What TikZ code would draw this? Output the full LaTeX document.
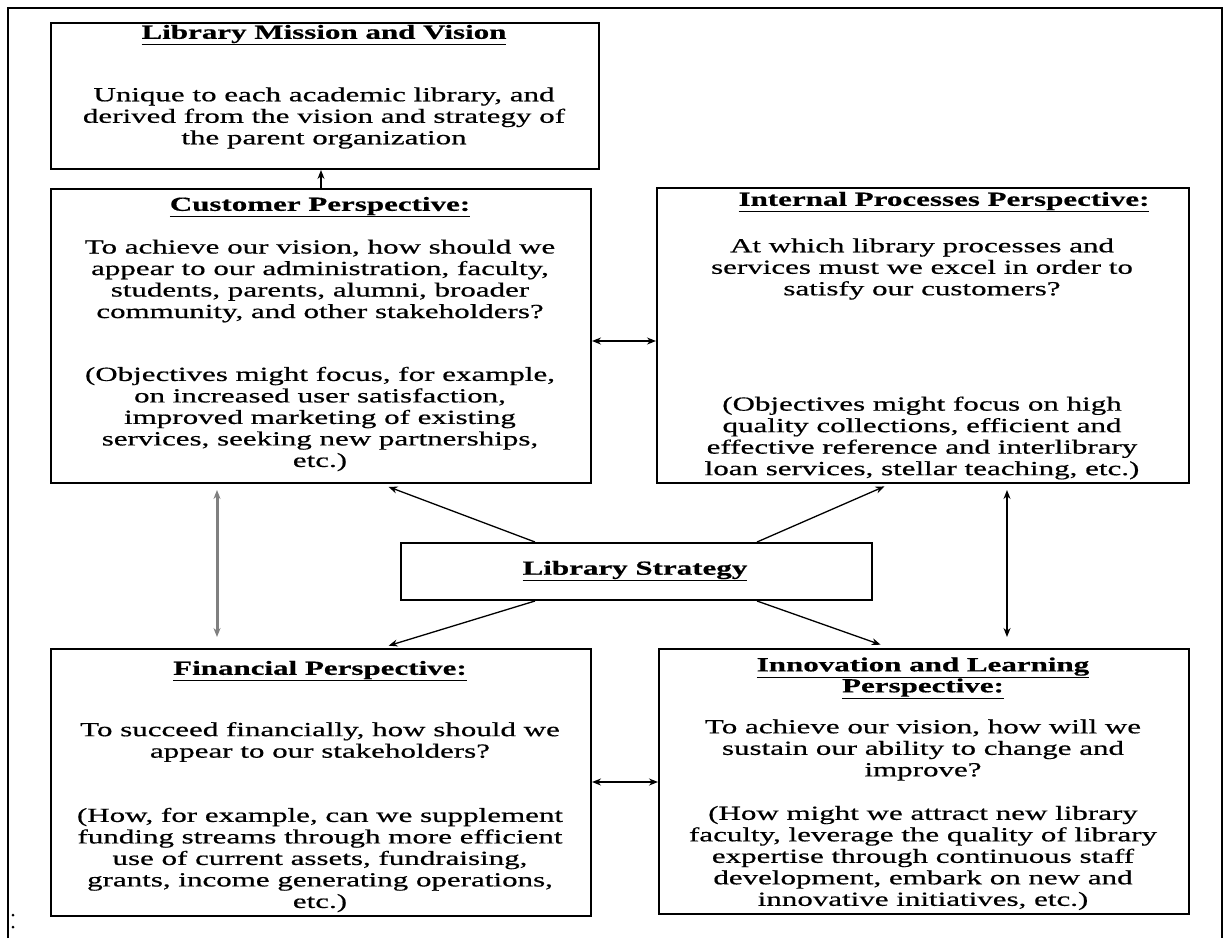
\documentclass[tikz,border=0pt]{standalone}
\usepackage{fontspec}
\setmainfont{Liberation Serif}[FakeStretch=1.55, FakeBold=0.6]
\usetikzlibrary{positioning,arrows.meta}

\begin{document}
\begin{tikzpicture}[x=1pt,y=-1pt,
    every node/.style={font=\fontsize{20}{21.5}\selectfont},
    panel/.style={draw, line width=2pt, inner sep=0pt, anchor=north west},
    head/.style={font=\fontsize{20}{21}\selectfont\bfseries, align=center, inner sep=0pt},
    body/.style={align=center, inner sep=0pt},
    link/.style={line width=1.3pt, -{Stealth[length=9pt,width=7pt]}},
    both/.style={line width=1.3pt, {Stealth[length=9pt,width=7pt]}-{Stealth[length=9pt,width=7pt]}}]
  \useasboundingbox (0,0) rectangle (1224,938);
  % outer frame
  \draw[line width=2pt] (8,938) -- (8,8) -- (1222,8) -- (1222,938);
  \fill (13,915) circle (1.5pt);
  \fill (13,927) circle (1.5pt);

  % boxes
  \node[panel, minimum width=548pt, minimum height=146pt] (mission) at (50,22) {};
  \node[panel, minimum width=540pt, minimum height=294pt] (cust) at (50,188) {};
  \node[panel, minimum width=532pt, minimum height=295pt] (int) at (656,187) {};
  \node[panel, minimum width=471pt, minimum height=57pt] (strat) at (400,542) {};
  \node[panel, minimum width=540pt, minimum height=267pt] (fin) at (50,648) {};
  \node[panel, minimum width=530pt, minimum height=265pt] (inn) at (658,648) {};

  % texts
  \node[head] (missionT) at (324,35) {\underline{Library Mission and Vision}};
  \node[body] (missionB) at (324,118) {Unique to each academic library, and\\derived from the vision and strategy of\\the parent organization};

  \node[head] (custT) at (320,207) {\underline{Customer Perspective:}};
  \node[body] (custQ) at (320,281) {To achieve our vision, how should we\\appear to our administration, faculty,\\students, parents, alumni, broader\\community, and other stakeholders?};
  \node[body] (custO) at (320,419) {(Objectives might focus, for example,\\on increased user satisfaction,\\improved marketing of existing\\services, seeking new partnerships,\\etc.)};

  \node[head] (intT) at (944,202) {\underline{Internal Processes Perspective:}};
  \node[body] (intQ) at (922,269) {At which library processes and\\services must we excel in order to\\satisfy our customers?};
  \node[body] (intO) at (922,438) {(Objectives might focus on high\\quality collections, efficient and\\effective reference and interlibrary\\loan services, stellar teaching, etc.)};

  \node[head] (stratT) at (635,571) {\underline{Library Strategy}};

  \node[head] (finT) at (320,671) {\underline{Financial Perspective:}};
  \node[body] (finQ) at (320,742) {To succeed financially, how should we\\appear to our stakeholders?};
  \node[body] (finO) at (320,860) {(How, for example, can we supplement\\funding streams through more efficient\\use of current assets, fundraising,\\grants, income generating operations,\\etc.)};

  \node[head] (innT) at (923,678) {\underline{Innovation and Learning}\\\underline{Perspective:}};
  \node[body] (innQ) at (923,750) {To achieve our vision, how will we\\sustain our ability to change and\\improve?};
  \node[body] (innO) at (923,858) {(How might we attract new library\\faculty, leverage the quality of library\\expertise through continuous staff\\development, embark on new and\\innovative initiatives, etc.)};

  % connectors
  \coordinate (upper) at (0,341);
  \coordinate (lower) at (0,782);
  \coordinate (lcol) at (217,0);
  \coordinate (rcol) at (1007,0);
  \coordinate (ldiag) at (381,0);
  \coordinate (rdiag) at (890,0);
  \coordinate (sl) at (535,0);
  \coordinate (sr) at (757,0);
  \draw[link] (cust.north) -- (cust.north |- mission.south);
  \draw[both] (cust.east |- upper) -- (int.west |- upper);
  \draw[both] (fin.east |- lower) -- (inn.west |- lower);
  \draw[both, draw=gray, line width=3pt, shorten <=6pt, shorten >=11pt] (cust.south -| lcol) -- (fin.north -| lcol);
  \draw[both, shorten <=6pt, shorten >=11pt] (int.south -| rcol) -- (inn.north -| rcol);
  \draw[link, shorten >=8pt] (strat.north -| sl) -- (cust.south -| ldiag);
  \draw[link, shorten >=6pt] (strat.north -| sr) -- (int.south -| rdiag);
  \draw[link, shorten >=8pt] (strat.south -| sl) -- (fin.north -| ldiag);
  \draw[link, shorten >=10pt] (strat.south -| sr) -- (inn.north -| rdiag);
\end{tikzpicture}
\end{document}
